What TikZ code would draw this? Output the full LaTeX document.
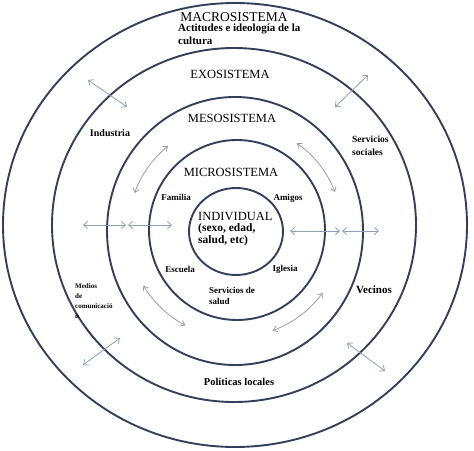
\documentclass[tikz,border=0pt]{standalone}
\usepackage{fontspec}
\setmainfont{Liberation Serif}
\usetikzlibrary{arrows.meta,calc}
\definecolor{ringc}{HTML}{34405A}
\definecolor{arrc}{HTML}{8FA0B4}
\definecolor{curvc}{HTML}{9A9EA6}
\tikzset{
  ring/.style={draw=ringc, line width=1.9pt},
  link/.style={draw=arrc, line width=0.8pt, {Straight Barb[length=4pt,width=7pt]}-{Straight Barb[length=4pt,width=7pt]}},
  curvlink/.style={draw=curvc, line width=0.8pt, {Straight Barb[length=4pt,width=6pt]}-{Straight Barb[length=4pt,width=6pt]}},
  title/.style={font=\fontsize{12.5}{14}\selectfont, inner sep=0pt},
  lab/.style={font=\bfseries\fontsize{9}{11}\selectfont, inner sep=0pt, align=left},
}
\begin{document}
\begin{tikzpicture}[x=1pt,y=-1pt]
\useasboundingbox (0,0) rectangle (474,450);
\fill[white] (0,0) rectangle (474,450);
% texts
\node[title, font=\fontsize{13.5}{15}\selectfont] (macro) at (234,17) {MACROSISTEMA};
\node[lab, font=\bfseries\fontsize{11}{13}\selectfont, anchor=north west] (actit) at (178,24) {Actitudes e ideología de la\\cultura};
% rings
\draw[ring] (235,225) ellipse [x radius=232, y radius=222];
\draw[ring] (234,225) ellipse [x radius=182, y radius=177];
\draw[ring] (235,231) ellipse [x radius=128, y radius=134];
\draw[ring] (237,230) ellipse [x radius=88, y radius=90];
\draw[ring] (236,231.5) ellipse [x radius=47, y radius=43.5];
\node[title] (exo) at (230,74) {EXOSISTEMA};
\node[title] (meso) at (232,118) {MESOSISTEMA};
\node[title] (micro) at (231,172) {MICROSISTEMA};
\node[lab] (fam) at (176,197) {Familia};
\node[lab] (ami) at (288,198) {Amigos};
\node[inner sep=0pt, align=left, anchor=north west] (ind) at (198,212)
  {{\fontsize{12.5}{14}\selectfont INDIVIDUAL}\\[-1pt]{\bfseries\fontsize{11.5}{13}\selectfont (sexo, edad,}\\{\bfseries\fontsize{11.5}{13}\selectfont salud, etc)}};
\node[lab] (esc) at (180,269) {Escuela};
\node[lab] (igl) at (285,269) {Iglesia};
\node[lab, anchor=north west] (ssal) at (209,287) {Servicios de\\salud};
\node[lab, font=\bfseries\fontsize{10}{12}\selectfont] (indu) at (110,133) {Industria};
\node[lab, font=\bfseries\fontsize{9.5}{12.5}\selectfont, anchor=north west] (ssoc) at (352,136) {Servicios\\sociales};
\node[lab, font=\bfseries\fontsize{11}{13}\selectfont] (vec) at (374,290) {Vecinos};
\node[lab, font=\bfseries\fontsize{7}{10.3}\selectfont, anchor=north west] (med) at (75,283) {Medios\\de\\comunicació\\n};
\node[lab, font=\bfseries\fontsize{10.5}{13}\selectfont] (pol) at (239,382) {Políticas locales};
% straight arrows
\coordinate (a1) at (88,80);   \coordinate (a2) at (127,107);
\coordinate (b1) at (368,75);  \coordinate (b2) at (335,107);
\coordinate (c1) at (120,338); \coordinate (c2) at (83,365);
\coordinate (d1) at (347,343); \coordinate (d2) at (385,371);
\coordinate (e1) at (83,225);  \coordinate (e2) at (126,225);
\coordinate (e3) at (128,225); \coordinate (e4) at (172,225);
\coordinate (f1) at (290,231); \coordinate (f2) at (340,231);
\coordinate (f3) at (342,231); \coordinate (f4) at (379,231);
\draw[link] (a1) -- (a2);
\draw[link] (b1) -- (b2);
\draw[link] (c1) -- (c2);
\draw[link] (d1) -- (d2);
\draw[link] (e1) -- (e2);
\draw[link] (e3) -- (e4);
\draw[link] (f1) -- (f2);
\draw[link] (f3) -- (f4);
% curved arrows in the meso ring
\coordinate (cc) at (236,230);
\draw[curvlink] ($(cc)+(-129:108)$) arc[start angle=-129, end angle=-160, radius=108];
\draw[curvlink] ($(cc)+(-55:106)$) arc[start angle=-55, end angle=-21, radius=106];
\draw[curvlink] ($(cc)+(149:108)$) arc[start angle=149, end angle=118, radius=108];
\draw[curvlink] ($(cc)+(36:107)$) arc[start angle=36, end angle=70, radius=107];
\end{tikzpicture}
\end{document}
